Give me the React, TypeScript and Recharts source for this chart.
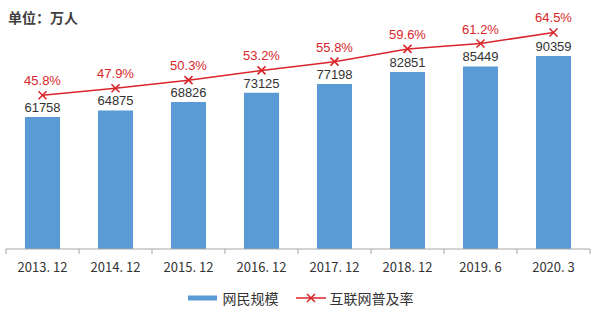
import React from "react";
import { ComposedChart, Bar, Line, XAxis, YAxis, LabelList } from "recharts";

const categories = ["2013. 12", "2014. 12", "2015. 12", "2016. 12", "2017. 12", "2018. 12", "2019. 6", "2020. 3"];
const netizens = [61758, 64875, 68826, 73125, 77198, 82851, 85449, 90359];
const penetration = [45.8, 47.9, 50.3, 53.2, 55.8, 59.6, 61.2, 64.5];

const data = categories.map((c, i) => ({ cat: c, users: netizens[i], rate: penetration[i] }));

const W = 600;
const H = 312;
const M = { top: 14, right: 10, left: 6, bottom: 62 };
const BAND = (W - M.left - M.right) / categories.length;

const BLUE = "#5b9bd5";
const RED = "#d9262c";
const CJK = "'Noto Sans CJK SC', 'Noto Sans', sans-serif";
const NUM = "'Liberation Sans', Arial, sans-serif";

const XTick = (props: any) => {
  const { x, y, payload, index } = props;
  const last = index === categories.length - 1;
  return (
    <g>
      <line x1={x - BAND / 2} x2={x - BAND / 2} y1={y} y2={y + 5} stroke="#a6a6a6" />
      {last && <line x1={x + BAND / 2} x2={x + BAND / 2} y1={y} y2={y + 5} stroke="#a6a6a6" />}
      <text x={x} y={y + 23} textAnchor="middle" fontFamily={CJK} fontSize={13} fill="#333">
        {payload.value}
      </text>
    </g>
  );
};

const Cross = (props: any) => {
  const { cx, cy } = props;
  if (cx == null || cy == null) return null;
  const s = 4;
  return (
    <g stroke={RED} strokeWidth={1.6}>
      <line x1={cx - s} y1={cy - s} x2={cx + s} y2={cy + s} />
      <line x1={cx - s} y1={cy + s} x2={cx + s} y2={cy - s} />
    </g>
  );
};

const LegendBox = () => (
  <div
    style={{
      position: "absolute",
      left: 0,
      top: 288,
      width: W,
      display: "flex",
      justifyContent: "center",
      alignItems: "center",
      fontFamily: CJK,
      fontSize: 14,
      lineHeight: "20px",
      color: "#333",
    }}
  >
    <svg width={32} height={10} style={{ marginRight: 4 }}>
      <line x1={1} x2={30} y1={5} y2={5} stroke={BLUE} strokeWidth={5} />
    </svg>
    <span style={{ marginRight: 16 }}>网民规模</span>
    <svg width={32} height={10} style={{ marginRight: 3 }}>
      <line x1={1} x2={31} y1={5} y2={5} stroke={RED} strokeWidth={1.5} />
      <g stroke={RED} strokeWidth={1.6}>
        <line x1={12} y1={1} x2={20} y2={9} />
        <line x1={12} y1={9} x2={20} y2={1} />
      </g>
    </svg>
    <span>互联网普及率</span>
  </div>
);

export default function App() {
  return (
    <div style={{ position: "absolute", left: 0, top: 0, width: W, height: H, background: "#fff" }}>
      <div style={{ position: "absolute", left: 8, top: 7, fontFamily: CJK, fontWeight: 700, fontSize: 14, color: "#404040", zIndex: 2 }}>
        单位：万人
      </div>
      <ComposedChart width={W} height={H} data={data} margin={M}>
        <XAxis
          dataKey="cat"
          axisLine={{ stroke: "#a6a6a6" }}
          tickLine={false}
          tickSize={0}
          tickMargin={0}
          tick={<XTick />}
          interval={0}
          height={1}
        />
        <YAxis yAxisId="l" hide domain={[0, 110000]} />
        <YAxis yAxisId="r" hide domain={[0, 70]} orientation="right" />
        <Bar yAxisId="l" dataKey="users" fill={BLUE} barSize={35} isAnimationActive={false}>
          <LabelList dataKey="users" position="top" offset={5} fill="#333" fontSize={13} fontFamily={NUM} />
        </Bar>
        <Line
          yAxisId="r"
          dataKey="rate"
          stroke={RED}
          strokeWidth={1.5}
          dot={<Cross />}
          activeDot={false}
          isAnimationActive={false}
        >
          <LabelList
            dataKey="rate"
            position="top"
            offset={10}
            fill={RED}
            fontSize={13}
            fontFamily={NUM}
            formatter={(v: any) => `${Number(v).toFixed(1)}%`}
          />
        </Line>
      </ComposedChart>
      <LegendBox />
    </div>
  );
}
